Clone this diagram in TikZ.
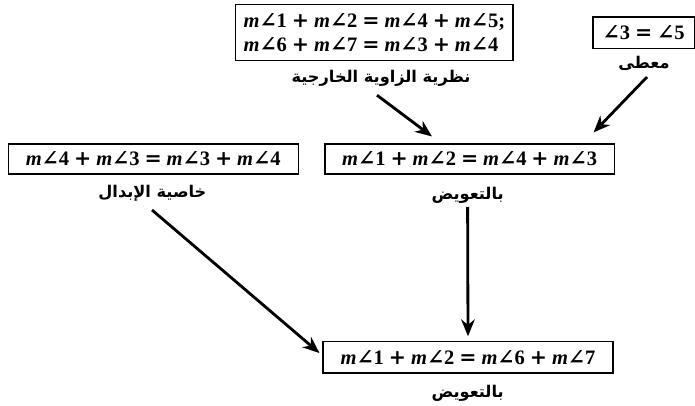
\documentclass[tikz,border=0pt]{standalone}
\usepackage{fontspec}
\usetikzlibrary{positioning,arrows.meta}
\newfontfamily\stmtfont{Liberation Serif}
\newfontfamily\anglefont{DejaVu Serif}
\newfontfamily\arabicfont[Script=Arabic]{DejaVu Sans}
\TeXXeTstate=1

% measure of an angle, and the signs between them
\newcommand\angsym{{\anglefont\bfseries ∠}}
\newcommand\mang[1]{\textit{m}\angsym#1}
\newcommand\pl{\hspace{0.24em}{\anglefont\bfseries +}\hspace{0.24em}}
\newcommand\eq{\hspace{0.24em}{\anglefont\bfseries =}\hspace{0.24em}}

\begin{document}
\begin{tikzpicture}[
    stmt/.style={rectangle, draw=black, line width=0.8pt, inner sep=0pt, align=left, font=\stmtfont\bfseries\fontsize{14.6}{17}\selectfont},
    reason/.style={inner sep=0pt, font=\arabicfont\bfseries\fontsize{11.5}{14}\selectfont},
    proofarrow/.style={-{Stealth[length=4.2mm,width=3.4mm]}, line width=2pt}
]

% Page frame
\useasboundingbox (0,0) rectangle (17.375,10.125);

% Statements
\node[stmt, minimum width=6.93cm, minimum height=1.4cm] (thm) at (9.36, 9.31)
    {\mang1\pl\mang2\eq\mang4\pl\mang5;\\\mang6\pl\mang7\eq\mang3\pl\mang4};
\node[stmt, minimum width=2.53cm, minimum height=0.78cm] (given) at (16.09, 9.31)
    {\angsym3\eq\angsym5};
\node[stmt, minimum width=7.25cm, minimum height=0.75cm] (comm) at (3.83, 6.15)
    {\mang4\pl\mang3\eq\mang3\pl\mang4};
\node[stmt, minimum width=7.23cm, minimum height=0.75cm] (subA) at (11.74, 6.15)
    {\mang1\pl\mang2\eq\mang4\pl\mang3};
\node[stmt, minimum width=7.25cm, minimum height=0.78cm] (subB) at (11.7, 1.19)
    {\mang1\pl\mang2\eq\mang6\pl\mang7};

% Reasons under the statements
\node[reason] (thmLbl) at (9.525, 8.175) {\beginR نظرية الزاوية الخارجية\endR};
\node[reason] (givenLbl) at (16.1, 8.55) {\beginR معطى\endR};
\node[reason] (commLbl) at (3.81, 5.3) {\beginR خاصية الإبدال\endR};
\node[reason] (subALbl) at (11.69, 5.25) {\beginR بالتعويض\endR};
\node[reason] (subBLbl) at (11.69, 0.3) {\beginR بالتعويض\endR};

% Flow of the proof
\draw[proofarrow] ([xshift=-0.1cm,yshift=-0.43cm]thmLbl.center) -- ([xshift=-0.94cm,yshift=0.175cm]subA.north);
\draw[proofarrow] ([xshift=0.075cm,yshift=-0.35cm]givenLbl.center) -- ([xshift=-0.53cm,yshift=0.275cm]subA.north east);
\draw[proofarrow] ([xshift=-0.01cm,yshift=-0.425cm]commLbl.center) -- ([xshift=-0.075cm,yshift=0.11cm]subB.west);
\draw[proofarrow] ([yshift=-0.3cm]subALbl.center) -- ([yshift=0.125cm]subB.north);

\end{tikzpicture}
\end{document}
